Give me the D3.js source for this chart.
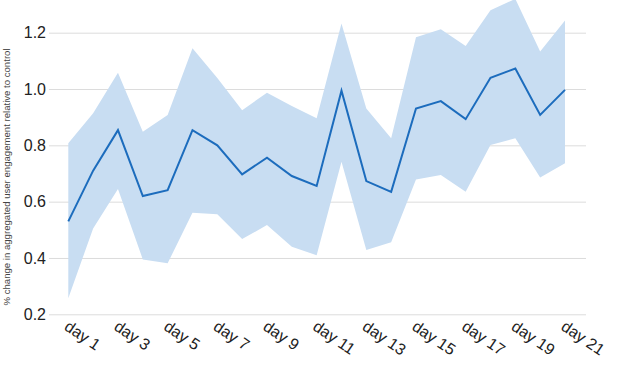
<!DOCTYPE html>
<html>
<head>
<meta charset="utf-8">
<script src="https://cdn.jsdelivr.net/npm/d3@7"></script>
<style>
  body { margin: 0; background: #fff; }
  svg { display: block; font-family: "Liberation Sans", Arial, sans-serif; }
</style>
</head>
<body>
<svg id="chart"></svg>
<script>
const days = d3.range(1, 22).map(i => `day ${i}`)
const mean = [0.53, 0.71, 0.854, 0.62, 0.641, 0.854, 0.80, 0.697, 0.756, 0.691, 0.656,
              0.994, 0.673, 0.635, 0.931, 0.957, 0.893, 1.04, 1.073, 0.908, 0.997]
const upper = [0.807, 0.914, 1.058, 0.848, 0.908, 1.145, 1.039, 0.925, 0.987, 0.94, 0.896,
               1.233, 0.931, 0.825, 1.184, 1.212, 1.153, 1.28, 1.32, 1.133, 1.243]
const lower = [0.257, 0.505, 0.645, 0.395, 0.381, 0.561, 0.555, 0.467, 0.517, 0.44, 0.41,
               0.742, 0.428, 0.456, 0.679, 0.695, 0.635, 0.801, 0.825, 0.686, 0.736]
const yTicks = [0.2, 0.4, 0.6, 0.8, 1.0, 1.2]
const xTickLabels = days.filter((d, i) => i % 2 == 0)
const yLabel = "% change in aggregated user engagement relative to control"

const width = 640, height = 383
const gridLeft = 49, gridRight = 586

const data = days.map((d, i) => ({day: d, mean: mean[i], lo: lower[i], hi: upper[i]}))

const x = d3.scalePoint()
    .domain(days)
    .range([68.3, 565])

const y = d3.scaleLinear()
    .domain([0.2, 1.2])
    .range([314.3, 32.7])

const svg = d3.select("svg#chart")
    .attr("width", width)
    .attr("height", height)

// gridlines + y labels
const yAxis = g => g
    .attr("transform", `translate(${gridLeft},0)`)
    .call(d3.axisLeft(y)
        .tickValues(yTicks)
        .tickFormat(d3.format(".1f"))
        .tickSize(-(gridRight - gridLeft))
        .tickPadding(3))
    .call(g => g.select(".domain").remove())
    .call(g => g.selectAll(".tick line").attr("stroke", "#dcdcdc"))
    .call(g => g.selectAll(".tick text")
        .attr("font-size", 16)
        .attr("fill", "#222")
        .attr("font-family", "Liberation Sans, Arial, sans-serif"))

svg.append("g").call(yAxis)

// band
svg.append("path")
    .datum(data)
    .attr("fill", "#c8ddf2")
    .attr("d", d3.area()
        .x(d => x(d.day))
        .y0(d => y(d.lo))
        .y1(d => y(d.hi)))

// mean line
svg.append("path")
    .datum(data)
    .attr("fill", "none")
    .attr("stroke", "#1c6cbd")
    .attr("stroke-width", 2)
    .attr("d", d3.line()
        .x(d => x(d.day))
        .y(d => y(d.mean)))

// x labels
svg.append("g")
    .selectAll("text")
    .data(xTickLabels)
    .join("text")
    .attr("transform", d => `translate(${x(d) - 5},329) rotate(34)`)
    .attr("font-size", 16)
    .attr("fill", "#222")
    .text(d => d)

// y title
svg.append("text")
    .attr("transform", "translate(10,177) rotate(-90)")
    .attr("text-anchor", "middle")
    .attr("font-size", 9.6)
    .attr("fill", "#444")
    .text(yLabel)
</script>
</body>
</html>
